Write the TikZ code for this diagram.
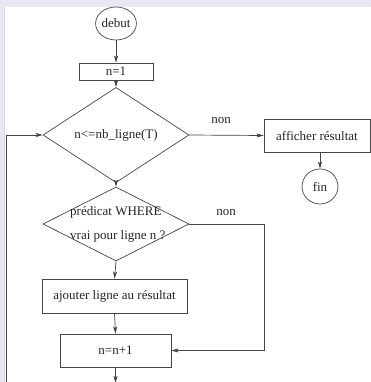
\documentclass[tikz,border=0pt]{standalone}
\usepackage{fontspec}
\setmainfont{Liberation Serif}
\usetikzlibrary{shapes.geometric,arrows.meta}
\definecolor{lav}{RGB}{232,232,244}
\definecolor{ln}{RGB}{70,70,70}
\begin{document}
\begin{tikzpicture}[x=1pt,y=-1pt,
  every node/.style={font=\fontsize{13}{15}\selectfont, text=black!85},
  term/.style={draw=ln, line width=0.7pt, ellipse, inner sep=0pt},
  box/.style={draw=ln, line width=0.7pt, rectangle, inner sep=0pt},
  dia/.style={draw=ln, line width=0.7pt, diamond, inner sep=0pt, minimum width=146pt, minimum height=74pt},
  conn/.style={draw=ln, line width=0.7pt},
  arr/.style={conn, -{Stealth[length=7pt,width=4pt,inset=1.5pt]}},
  lbl/.style={inner sep=0pt}]
\useasboundingbox (0,0) rectangle (371,382);
\fill[lav] (0,0) rectangle (371,382);
\fill[white] (4.5,7) rectangle (371,382);
\draw[black!15, line width=0.6pt] (4.5,7) -- (4.5,382);

\node[term, minimum width=37pt, minimum height=33pt] (debut) at (116,23.5) {debut};
\node[box, minimum width=74pt, minimum height=17pt] (n1) at (116,71.5) {n=1};
\node[dia] (d1) at (116,135) {n<=nb\_ligne(T)};
\node[box, minimum width=106pt, minimum height=33pt] (aff) at (317,135.5) {afficher résultat};
\node[term, minimum width=36pt, minimum height=35pt] (fin) at (320,186.5) {fin};
\node[dia] (d2) at (116,224) {};
\node[lbl, anchor=west] (t1) at (70,212) {prédicat WHERE};
\node[lbl, anchor=west] (t2) at (70,236) {vrai pour ligne n ?};
\node[box, minimum width=145pt, minimum height=34pt] (aj) at (114.5,296) {ajouter ligne au résultat};
\node[box, minimum width=111pt, minimum height=33pt] (nn) at (115.5,350.5) {n=n+1};

\node[lbl] (non1) at (221,121) {non};
\node[lbl] (non2) at (226,212) {non};

\coordinate (r) at (264,350.5);
\coordinate (bot) at (115.5,383);
\coordinate (lb) at (6,383);

\draw[arr] (debut) -- (n1);
\draw[arr] (n1) -- (d1.north);
\draw[arr] (d1.east) -- (aff.west);
\draw[arr] (aff.south -| fin.north) -- (fin.north);
\draw[arr] (d1.south) -- (d2.north);
\draw[arr] (d2.south) -- (aj.north);
\draw[arr] (aj.south) -- (nn.north);
\draw[arr] (d2.east) -| (r) -- (nn.east);
\draw[arr] (nn.south) -- (bot);
\draw[arr] (lb) |- (d1.west);
\end{tikzpicture}
\end{document}
